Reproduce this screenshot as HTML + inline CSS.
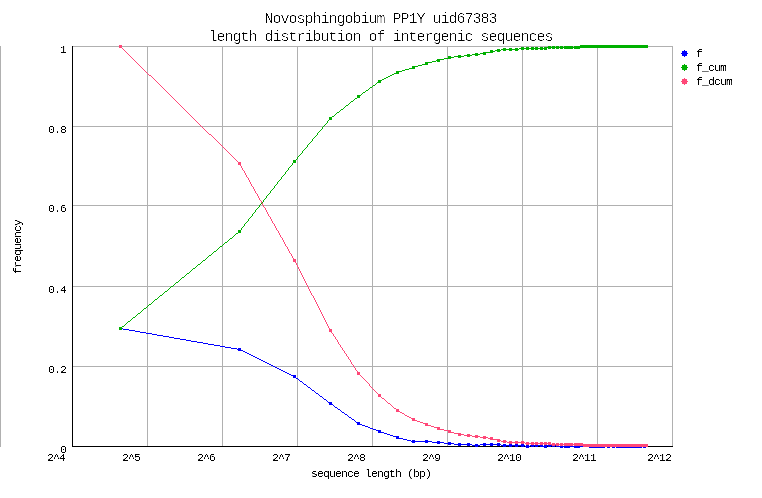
<!DOCTYPE html>
<html><head><meta charset="utf-8"><title>Novosphingobium PP1Y uid67383 - length distribution of intergenic sequences</title><style>
html,body{margin:0;padding:0;background:#fff;width:762px;height:498px;overflow:hidden}
.t{position:absolute;margin:0;font-family:"Liberation Mono",monospace;font-weight:400;color:#000;white-space:pre;line-height:1;filter:url(#th);}
.ttl{font-size:15px;letter-spacing:-1.0px;}
.s{font-size:11.5px;letter-spacing:-0.9px;filter:url(#th2);}
svg{position:absolute;left:0;top:0}
</style></head><body>
<svg width="762" height="498" viewBox="0 0 762 498" shape-rendering="crispEdges">
<defs><filter id="th" x="0" y="0" width="100%" height="100%"><feComponentTransfer><feFuncA type="linear" slope="3" intercept="-1.6"/></feComponentTransfer></filter><filter id="th2" x="0" y="0" width="100%" height="100%"><feComponentTransfer><feFuncA type="linear" slope="3" intercept="-1.0"/></feComponentTransfer></filter></defs>
<!-- grid -->
<path fill="#b0b0b0" d="M147 46h1v401h-1zM222 46h1v401h-1zM297 46h1v401h-1zM372 46h1v401h-1zM447 46h1v401h-1zM522 46h1v401h-1zM597 46h1v401h-1zM672 46h1v401h-1zM72 46h601v1h-601zM72 126h601v1h-601zM72 205h601v1h-601zM72 286h601v1h-601zM72 366h601v1h-601zM0 46h1v401h-1z"/>
<!-- axes (left + bottom border) -->
<path fill="#000" d="M72 46h1v401h-1zM72 446h601v1h-601z"/>
<!-- series f: line + point markers -->
<path fill="#0000ff" d="M119 327h3v1h-3zM119 328h4v1h-4zM119 329h3v1h-3zM123 329h6v1h-6zM129 330h6v1h-6zM135 331h5v1h-5zM140 332h6v1h-6zM146 333h6v1h-6zM152 334h5v1h-5zM157 335h6v1h-6zM163 336h6v1h-6zM169 337h5v1h-5zM174 338h6v1h-6zM180 339h6v1h-6zM186 340h5v1h-5zM191 341h6v1h-6zM197 342h6v1h-6zM203 343h5v1h-5zM208 344h6v1h-6zM214 345h6v1h-6zM220 346h5v1h-5zM225 347h6v1h-6zM231 348h6v1h-6zM238 348h3v1h-3zM237 349h4v1h-4zM238 350h5v1h-5zM243 351h2v1h-2zM245 352h2v1h-2zM247 353h2v1h-2zM249 354h2v1h-2zM251 355h2v1h-2zM253 356h2v1h-2zM255 357h2v1h-2zM257 358h2v1h-2zM259 359h2v1h-2zM261 360h2v1h-2zM263 361h2v1h-2zM265 362h2v1h-2zM267 363h2v1h-2zM269 364h2v1h-2zM271 365h2v1h-2zM273 366h2v1h-2zM275 367h2v1h-2zM277 368h2v1h-2zM279 369h2v1h-2zM281 370h2v1h-2zM283 371h2v1h-2zM285 372h2v1h-2zM287 373h2v1h-2zM289 374h2v1h-2zM291 375h5v1h-5zM293 376h3v1h-3zM293 377h3v1h-3zM296 378h2v1h-2zM298 379h1v1h-1zM299 380h1v1h-1zM300 381h2v1h-2zM302 382h1v1h-1zM303 383h1v1h-1zM304 384h2v1h-2zM306 385h1v1h-1zM307 386h1v1h-1zM308 387h2v1h-2zM310 388h1v1h-1zM311 389h1v1h-1zM312 390h2v1h-2zM314 391h1v1h-1zM315 392h1v1h-1zM316 393h2v1h-2zM318 394h1v1h-1zM319 395h1v1h-1zM320 396h2v1h-2zM322 397h1v1h-1zM323 398h1v1h-1zM324 399h2v1h-2zM326 400h1v1h-1zM327 401h1v1h-1zM328 402h4v1h-4zM329 403h3v1h-3zM329 404h4v1h-4zM333 405h1v1h-1zM334 406h1v1h-1zM335 407h2v1h-2zM337 408h1v1h-1zM338 409h2v1h-2zM340 410h1v1h-1zM341 411h1v1h-1zM342 412h2v1h-2zM344 413h1v1h-1zM345 414h2v1h-2zM347 415h1v1h-1zM348 416h1v1h-1zM349 417h2v1h-2zM351 418h1v1h-1zM352 419h2v1h-2zM354 420h1v1h-1zM355 421h1v1h-1zM356 422h4v1h-4zM357 423h3v1h-3zM357 424h5v1h-5zM362 425h3v1h-3zM365 426h3v1h-3zM368 427h2v1h-2zM370 428h3v1h-3zM373 429h3v1h-3zM376 430h5v1h-5zM378 431h3v1h-3zM378 432h6v1h-6zM384 433h3v1h-3zM387 434h3v1h-3zM390 435h3v1h-3zM393 436h6v1h-6zM396 437h3v1h-3zM396 438h7v1h-7zM403 439h4v1h-4zM407 440h4v1h-4zM412 440h3v1h-3zM425 440h3v1h-3zM411 441h21v1h-21zM437 441h3v1h-3zM412 442h3v1h-3zM425 442h3v1h-3zM432 442h12v1h-12zM448 442h3v1h-3zM437 443h3v1h-3zM444 443h10v1h-10zM458 443h3v1h-3zM467 443h3v1h-3zM483 443h3v1h-3zM490 443h3v1h-3zM497 443h3v1h-3zM448 444h3v1h-3zM454 444h18v1h-18zM475 444h3v1h-3zM480 444h21v1h-21zM503 444h3v1h-3zM509 444h3v1h-3zM515 444h3v1h-3zM521 444h3v1h-3zM531 444h3v1h-3zM535 444h3v1h-3zM540 444h3v1h-3zM548 444h3v1h-3zM552 444h3v1h-3zM556 444h3v1h-3zM570 444h3v1h-3zM580 444h9v1h-9zM604 444h3v1h-3zM609 444h3v1h-3zM614 444h3v1h-3zM641 444h3v1h-3zM645 444h3v1h-3zM458 445h3v1h-3zM467 445h3v1h-3zM472 445h8v1h-8zM483 445h3v1h-3zM490 445h3v1h-3zM497 445h3v1h-3zM501 445h24v1h-24zM526 445h3v1h-3zM530 445h13v1h-13zM544 445h15v1h-15zM560 445h3v1h-3zM564 445h9v1h-9zM574 445h74v1h-74zM475 446h3v1h-3zM503 446h3v1h-3zM509 446h3v1h-3zM515 446h3v1h-3zM521 446h3v1h-3zM525 446h5v1h-5zM531 446h3v1h-3zM535 446h3v1h-3zM540 446h7v1h-7zM548 446h3v1h-3zM552 446h3v1h-3zM556 446h92v1h-92zM526 447h3v1h-3zM544 447h3v1h-3zM560 447h3v1h-3zM564 447h6v1h-6zM574 447h6v1h-6zM589 447h16v1h-16zM607 447h3v1h-3zM612 447h3v1h-3zM616 447h26v1h-26zM643 447h3v1h-3z"/>
<!-- series f_cum: line + point markers -->
<path fill="#00b000" d="M580 45h68v1h-68zM548 46h3v1h-3zM552 46h3v1h-3zM556 46h3v1h-3zM560 46h3v1h-3zM564 46h9v1h-9zM574 46h74v1h-74zM521 47h3v1h-3zM526 47h3v1h-3zM531 47h3v1h-3zM535 47h3v1h-3zM540 47h3v1h-3zM544 47h104v1h-104zM503 48h3v1h-3zM509 48h3v1h-3zM515 48h3v1h-3zM519 48h28v1h-28zM548 48h3v1h-3zM552 48h3v1h-3zM556 48h3v1h-3zM560 48h3v1h-3zM564 48h9v1h-9zM574 48h6v1h-6zM497 49h3v1h-3zM501 49h18v1h-18zM521 49h3v1h-3zM526 49h3v1h-3zM531 49h3v1h-3zM535 49h3v1h-3zM540 49h3v1h-3zM544 49h3v1h-3zM490 50h3v1h-3zM495 50h6v1h-6zM503 50h3v1h-3zM509 50h3v1h-3zM515 50h3v1h-3zM490 51h5v1h-5zM497 51h3v1h-3zM483 52h10v1h-10zM475 53h3v1h-3zM480 53h6v1h-6zM467 54h3v1h-3zM472 54h8v1h-8zM483 54h3v1h-3zM458 55h3v1h-3zM464 55h8v1h-8zM475 55h3v1h-3zM448 56h3v1h-3zM454 56h10v1h-10zM467 56h3v1h-3zM448 57h6v1h-6zM458 57h3v1h-3zM444 58h7v1h-7zM437 59h7v1h-7zM436 60h4v1h-4zM432 61h4v1h-4zM437 61h3v1h-3zM425 62h7v1h-7zM425 63h3v1h-3zM422 64h6v1h-6zM418 65h4v1h-4zM412 66h6v1h-6zM412 67h3v1h-3zM409 68h6v1h-6zM405 69h4v1h-4zM402 70h3v1h-3zM396 71h6v1h-6zM396 72h3v1h-3zM394 73h5v1h-5zM392 74h2v1h-2zM390 75h2v1h-2zM388 76h2v1h-2zM386 77h2v1h-2zM384 78h2v1h-2zM382 79h2v1h-2zM378 80h4v1h-4zM378 81h3v1h-3zM377 82h4v1h-4zM376 83h1v1h-1zM375 84h1v1h-1zM373 85h2v1h-2zM372 86h1v1h-1zM370 87h2v1h-2zM369 88h1v1h-1zM368 89h1v1h-1zM366 90h2v1h-2zM365 91h1v1h-1zM363 92h2v1h-2zM362 93h1v1h-1zM361 94h1v1h-1zM357 95h4v1h-4zM357 96h3v1h-3zM357 97h3v1h-3zM355 98h2v1h-2zM354 99h1v1h-1zM353 100h1v1h-1zM351 101h2v1h-2zM350 102h1v1h-1zM349 103h1v1h-1zM348 104h1v1h-1zM346 105h2v1h-2zM345 106h1v1h-1zM344 107h1v1h-1zM343 108h1v1h-1zM341 109h2v1h-2zM340 110h1v1h-1zM339 111h1v1h-1zM337 112h2v1h-2zM336 113h1v1h-1zM335 114h1v1h-1zM334 115h1v1h-1zM332 116h2v1h-2zM329 117h3v1h-3zM329 118h3v1h-3zM329 119h3v1h-3zM328 120h1v1h-1zM327 121h1v1h-1zM327 122h1v1h-1zM326 123h1v1h-1zM325 124h1v1h-1zM324 125h1v1h-1zM323 126h1v1h-1zM322 127h1v1h-1zM322 128h1v1h-1zM321 129h1v1h-1zM320 130h1v1h-1zM319 131h1v1h-1zM318 132h1v1h-1zM317 133h1v1h-1zM317 134h1v1h-1zM316 135h1v1h-1zM315 136h1v1h-1zM314 137h1v1h-1zM313 138h1v1h-1zM312 139h1v1h-1zM312 140h1v1h-1zM311 141h1v1h-1zM310 142h1v1h-1zM309 143h1v1h-1zM308 144h1v1h-1zM307 145h1v1h-1zM307 146h1v1h-1zM306 147h1v1h-1zM305 148h1v1h-1zM304 149h1v1h-1zM303 150h1v1h-1zM302 151h1v1h-1zM302 152h1v1h-1zM301 153h1v1h-1zM300 154h1v1h-1zM299 155h1v1h-1zM298 156h1v1h-1zM297 157h1v1h-1zM297 158h1v1h-1zM296 159h1v1h-1zM293 160h3v1h-3zM293 161h3v1h-3zM293 162h3v1h-3zM292 163h1v1h-1zM292 164h1v1h-1zM291 165h1v1h-1zM290 166h1v1h-1zM289 167h1v1h-1zM288 168h1v1h-1zM288 169h1v1h-1zM287 170h1v1h-1zM286 171h1v1h-1zM285 172h1v1h-1zM285 173h1v1h-1zM284 174h1v1h-1zM283 175h1v1h-1zM282 176h1v1h-1zM281 177h1v1h-1zM281 178h1v1h-1zM280 179h1v1h-1zM279 180h1v1h-1zM278 181h1v1h-1zM277 182h1v1h-1zM277 183h1v1h-1zM276 184h1v1h-1zM275 185h1v1h-1zM274 186h1v1h-1zM274 187h1v1h-1zM273 188h1v1h-1zM272 189h1v1h-1zM271 190h1v1h-1zM270 191h1v1h-1zM270 192h1v1h-1zM269 193h1v1h-1zM268 194h1v1h-1zM267 195h1v1h-1zM266 196h1v1h-1zM266 197h1v1h-1zM265 198h1v1h-1zM264 199h1v1h-1zM263 200h1v1h-1zM263 201h1v1h-1zM262 202h1v1h-1zM261 203h1v1h-1zM260 204h1v1h-1zM259 205h1v1h-1zM259 206h1v1h-1zM258 207h1v1h-1zM257 208h1v1h-1zM256 209h1v1h-1zM255 210h1v1h-1zM255 211h1v1h-1zM254 212h1v1h-1zM253 213h1v1h-1zM252 214h1v1h-1zM252 215h1v1h-1zM251 216h1v1h-1zM250 217h1v1h-1zM249 218h1v1h-1zM248 219h1v1h-1zM248 220h1v1h-1zM247 221h1v1h-1zM246 222h1v1h-1zM245 223h1v1h-1zM244 224h1v1h-1zM244 225h1v1h-1zM243 226h1v1h-1zM242 227h1v1h-1zM241 228h1v1h-1zM241 229h1v1h-1zM238 230h3v1h-3zM238 231h3v1h-3zM238 232h3v1h-3zM236 233h2v1h-2zM235 234h1v1h-1zM234 235h1v1h-1zM233 236h1v1h-1zM232 237h1v1h-1zM230 238h2v1h-2zM229 239h1v1h-1zM228 240h1v1h-1zM227 241h1v1h-1zM225 242h2v1h-2zM224 243h1v1h-1zM223 244h1v1h-1zM222 245h1v1h-1zM220 246h2v1h-2zM219 247h1v1h-1zM218 248h1v1h-1zM217 249h1v1h-1zM216 250h1v1h-1zM214 251h2v1h-2zM213 252h1v1h-1zM212 253h1v1h-1zM211 254h1v1h-1zM209 255h2v1h-2zM208 256h1v1h-1zM207 257h1v1h-1zM206 258h1v1h-1zM205 259h1v1h-1zM203 260h2v1h-2zM202 261h1v1h-1zM201 262h1v1h-1zM200 263h1v1h-1zM198 264h2v1h-2zM197 265h1v1h-1zM196 266h1v1h-1zM195 267h1v1h-1zM193 268h2v1h-2zM192 269h1v1h-1zM191 270h1v1h-1zM190 271h1v1h-1zM189 272h1v1h-1zM187 273h2v1h-2zM186 274h1v1h-1zM185 275h1v1h-1zM184 276h1v1h-1zM182 277h2v1h-2zM181 278h1v1h-1zM180 279h1v1h-1zM179 280h1v1h-1zM178 281h1v1h-1zM176 282h2v1h-2zM175 283h1v1h-1zM174 284h1v1h-1zM173 285h1v1h-1zM171 286h2v1h-2zM170 287h1v1h-1zM169 288h1v1h-1zM168 289h1v1h-1zM167 290h1v1h-1zM165 291h2v1h-2zM164 292h1v1h-1zM163 293h1v1h-1zM162 294h1v1h-1zM160 295h2v1h-2zM159 296h1v1h-1zM158 297h1v1h-1zM157 298h1v1h-1zM155 299h2v1h-2zM154 300h1v1h-1zM153 301h1v1h-1zM152 302h1v1h-1zM151 303h1v1h-1zM149 304h2v1h-2zM148 305h1v1h-1zM147 306h1v1h-1zM146 307h1v1h-1zM144 308h2v1h-2zM143 309h1v1h-1zM142 310h1v1h-1zM141 311h1v1h-1zM140 312h1v1h-1zM138 313h2v1h-2zM137 314h1v1h-1zM136 315h1v1h-1zM135 316h1v1h-1zM133 317h2v1h-2zM132 318h1v1h-1zM131 319h1v1h-1zM130 320h1v1h-1zM128 321h2v1h-2zM127 322h1v1h-1zM126 323h1v1h-1zM125 324h1v1h-1zM124 325h1v1h-1zM122 326h2v1h-2zM119 327h3v1h-3zM119 328h3v1h-3zM119 329h3v1h-3z"/>
<!-- series f_dcum: line + point markers -->
<path fill="#ff4878" d="M119 45h3v1h-3zM119 46h3v1h-3zM119 47h3v1h-3zM122 48h1v1h-1zM123 49h1v1h-1zM124 50h1v1h-1zM125 51h1v1h-1zM126 52h1v1h-1zM127 53h1v1h-1zM128 54h1v1h-1zM129 55h1v1h-1zM130 56h1v1h-1zM131 57h1v1h-1zM132 58h1v1h-1zM133 59h1v1h-1zM134 60h1v1h-1zM135 61h1v1h-1zM136 62h1v1h-1zM137 63h1v1h-1zM138 64h1v1h-1zM139 65h1v1h-1zM140 66h1v1h-1zM141 67h1v1h-1zM142 68h1v1h-1zM143 69h1v1h-1zM144 70h1v1h-1zM145 71h1v1h-1zM146 72h1v1h-1zM147 73h1v1h-1zM148 74h1v1h-1zM149 75h2v1h-2zM151 76h1v1h-1zM152 77h1v1h-1zM153 78h1v1h-1zM154 79h1v1h-1zM155 80h1v1h-1zM156 81h1v1h-1zM157 82h1v1h-1zM158 83h1v1h-1zM159 84h1v1h-1zM160 85h1v1h-1zM161 86h1v1h-1zM162 87h1v1h-1zM163 88h1v1h-1zM164 89h1v1h-1zM165 90h1v1h-1zM166 91h1v1h-1zM167 92h1v1h-1zM168 93h1v1h-1zM169 94h1v1h-1zM170 95h1v1h-1zM171 96h1v1h-1zM172 97h1v1h-1zM173 98h1v1h-1zM174 99h1v1h-1zM175 100h1v1h-1zM176 101h1v1h-1zM177 102h1v1h-1zM178 103h1v1h-1zM179 104h1v1h-1zM180 105h1v1h-1zM181 106h1v1h-1zM182 107h1v1h-1zM183 108h1v1h-1zM184 109h1v1h-1zM185 110h1v1h-1zM186 111h1v1h-1zM187 112h1v1h-1zM188 113h1v1h-1zM189 114h1v1h-1zM190 115h1v1h-1zM191 116h1v1h-1zM192 117h1v1h-1zM193 118h1v1h-1zM194 119h1v1h-1zM195 120h1v1h-1zM196 121h1v1h-1zM197 122h1v1h-1zM198 123h1v1h-1zM199 124h1v1h-1zM200 125h1v1h-1zM201 126h1v1h-1zM202 127h1v1h-1zM203 128h1v1h-1zM204 129h1v1h-1zM205 130h1v1h-1zM206 131h1v1h-1zM207 132h1v1h-1zM208 133h1v1h-1zM209 134h2v1h-2zM211 135h1v1h-1zM212 136h1v1h-1zM213 137h1v1h-1zM214 138h1v1h-1zM215 139h1v1h-1zM216 140h1v1h-1zM217 141h1v1h-1zM218 142h1v1h-1zM219 143h1v1h-1zM220 144h1v1h-1zM221 145h1v1h-1zM222 146h1v1h-1zM223 147h1v1h-1zM224 148h1v1h-1zM225 149h1v1h-1zM226 150h1v1h-1zM227 151h1v1h-1zM228 152h1v1h-1zM229 153h1v1h-1zM230 154h1v1h-1zM231 155h1v1h-1zM232 156h1v1h-1zM233 157h1v1h-1zM234 158h1v1h-1zM235 159h1v1h-1zM236 160h1v1h-1zM237 161h1v1h-1zM238 162h3v1h-3zM238 163h3v1h-3zM238 164h3v1h-3zM240 165h1v1h-1zM241 166h1v1h-1zM241 167h1v1h-1zM242 168h1v1h-1zM242 169h1v1h-1zM243 170h1v1h-1zM244 171h1v1h-1zM244 172h1v1h-1zM245 173h1v1h-1zM245 174h1v1h-1zM246 175h1v1h-1zM246 176h1v1h-1zM247 177h1v1h-1zM248 178h1v1h-1zM248 179h1v1h-1zM249 180h1v1h-1zM249 181h1v1h-1zM250 182h1v1h-1zM250 183h1v1h-1zM251 184h1v1h-1zM251 185h1v1h-1zM252 186h1v1h-1zM253 187h1v1h-1zM253 188h1v1h-1zM254 189h1v1h-1zM254 190h1v1h-1zM255 191h1v1h-1zM255 192h1v1h-1zM256 193h1v1h-1zM257 194h1v1h-1zM257 195h1v1h-1zM258 196h1v1h-1zM258 197h1v1h-1zM259 198h1v1h-1zM259 199h1v1h-1zM260 200h1v1h-1zM261 201h1v1h-1zM261 202h1v1h-1zM262 203h1v1h-1zM262 204h1v1h-1zM263 205h1v1h-1zM263 206h1v1h-1zM264 207h1v1h-1zM265 208h1v1h-1zM265 209h1v1h-1zM266 210h1v1h-1zM266 211h1v1h-1zM267 212h1v1h-1zM267 213h1v1h-1zM268 214h1v1h-1zM268 215h1v1h-1zM269 216h1v1h-1zM270 217h1v1h-1zM270 218h1v1h-1zM271 219h1v1h-1zM271 220h1v1h-1zM272 221h1v1h-1zM272 222h1v1h-1zM273 223h1v1h-1zM274 224h1v1h-1zM274 225h1v1h-1zM275 226h1v1h-1zM275 227h1v1h-1zM276 228h1v1h-1zM276 229h1v1h-1zM277 230h1v1h-1zM278 231h1v1h-1zM278 232h1v1h-1zM279 233h1v1h-1zM279 234h1v1h-1zM280 235h1v1h-1zM280 236h1v1h-1zM281 237h1v1h-1zM282 238h1v1h-1zM282 239h1v1h-1zM283 240h1v1h-1zM283 241h1v1h-1zM284 242h1v1h-1zM284 243h1v1h-1zM285 244h1v1h-1zM285 245h1v1h-1zM286 246h1v1h-1zM287 247h1v1h-1zM287 248h1v1h-1zM288 249h1v1h-1zM288 250h1v1h-1zM289 251h1v1h-1zM289 252h1v1h-1zM290 253h1v1h-1zM291 254h1v1h-1zM291 255h1v1h-1zM292 256h1v1h-1zM292 257h1v1h-1zM293 258h1v1h-1zM293 259h3v1h-3zM293 260h3v1h-3zM293 261h3v1h-3zM295 262h1v1h-1zM296 263h1v1h-1zM296 264h1v1h-1zM297 265h1v1h-1zM297 266h1v1h-1zM298 267h1v1h-1zM298 268h1v1h-1zM299 269h1v1h-1zM299 270h1v1h-1zM300 271h1v1h-1zM300 272h1v1h-1zM301 273h1v1h-1zM301 274h1v1h-1zM302 275h1v1h-1zM302 276h1v1h-1zM303 277h1v1h-1zM303 278h1v1h-1zM304 279h1v1h-1zM304 280h1v1h-1zM305 281h1v1h-1zM305 282h1v1h-1zM306 283h1v1h-1zM306 284h1v1h-1zM307 285h1v1h-1zM307 286h1v1h-1zM308 287h1v1h-1zM308 288h1v1h-1zM309 289h1v1h-1zM309 290h1v1h-1zM310 291h1v1h-1zM310 292h1v1h-1zM311 293h1v1h-1zM311 294h1v1h-1zM312 295h1v1h-1zM313 296h1v1h-1zM313 297h1v1h-1zM314 298h1v1h-1zM314 299h1v1h-1zM315 300h1v1h-1zM315 301h1v1h-1zM316 302h1v1h-1zM316 303h1v1h-1zM317 304h1v1h-1zM317 305h1v1h-1zM318 306h1v1h-1zM318 307h1v1h-1zM319 308h1v1h-1zM319 309h1v1h-1zM320 310h1v1h-1zM320 311h1v1h-1zM321 312h1v1h-1zM321 313h1v1h-1zM322 314h1v1h-1zM322 315h1v1h-1zM323 316h1v1h-1zM323 317h1v1h-1zM324 318h1v1h-1zM324 319h1v1h-1zM325 320h1v1h-1zM325 321h1v1h-1zM326 322h1v1h-1zM326 323h1v1h-1zM327 324h1v1h-1zM327 325h1v1h-1zM328 326h1v1h-1zM328 327h1v1h-1zM329 328h1v1h-1zM329 329h3v1h-3zM329 330h3v1h-3zM329 331h3v1h-3zM331 332h1v1h-1zM332 333h1v1h-1zM333 334h1v1h-1zM333 335h1v1h-1zM334 336h1v1h-1zM335 337h1v1h-1zM335 338h1v1h-1zM336 339h1v1h-1zM337 340h1v1h-1zM337 341h1v1h-1zM338 342h1v1h-1zM338 343h1v1h-1zM339 344h1v1h-1zM340 345h1v1h-1zM340 346h1v1h-1zM341 347h1v1h-1zM342 348h1v1h-1zM342 349h1v1h-1zM343 350h1v1h-1zM344 351h1v1h-1zM344 352h1v1h-1zM345 353h1v1h-1zM346 354h1v1h-1zM346 355h1v1h-1zM347 356h1v1h-1zM348 357h1v1h-1zM348 358h1v1h-1zM349 359h1v1h-1zM350 360h1v1h-1zM350 361h1v1h-1zM351 362h1v1h-1zM351 363h1v1h-1zM352 364h1v1h-1zM353 365h1v1h-1zM353 366h1v1h-1zM354 367h1v1h-1zM355 368h1v1h-1zM355 369h1v1h-1zM356 370h1v1h-1zM357 371h1v1h-1zM357 372h3v1h-3zM357 373h3v1h-3zM357 374h3v1h-3zM360 375h1v1h-1zM361 376h1v1h-1zM362 377h1v1h-1zM363 378h1v1h-1zM364 379h1v1h-1zM365 380h1v1h-1zM366 381h1v1h-1zM367 382h1v1h-1zM368 383h1v1h-1zM369 384h1v1h-1zM369 385h1v1h-1zM370 386h1v1h-1zM371 387h1v1h-1zM372 388h1v1h-1zM373 389h1v1h-1zM374 390h1v1h-1zM375 391h1v1h-1zM376 392h1v1h-1zM377 393h1v1h-1zM378 394h3v1h-3zM378 395h3v1h-3zM378 396h3v1h-3zM381 397h1v1h-1zM382 398h2v1h-2zM384 399h1v1h-1zM385 400h1v1h-1zM386 401h1v1h-1zM387 402h1v1h-1zM388 403h2v1h-2zM390 404h1v1h-1zM391 405h1v1h-1zM392 406h1v1h-1zM393 407h1v1h-1zM394 408h2v1h-2zM396 409h3v1h-3zM396 410h3v1h-3zM396 411h4v1h-4zM400 412h2v1h-2zM402 413h2v1h-2zM404 414h1v1h-1zM405 415h2v1h-2zM407 416h2v1h-2zM409 417h2v1h-2zM411 418h4v1h-4zM412 419h3v1h-3zM412 420h5v1h-5zM417 421h3v1h-3zM420 422h3v1h-3zM423 423h5v1h-5zM425 424h3v1h-3zM425 425h6v1h-6zM431 426h3v1h-3zM434 427h6v1h-6zM437 428h3v1h-3zM437 429h7v1h-7zM444 430h7v1h-7zM448 431h3v1h-3zM448 432h6v1h-6zM454 433h7v1h-7zM458 434h6v1h-6zM467 434h3v1h-3zM458 435h3v1h-3zM464 435h8v1h-8zM475 435h3v1h-3zM467 436h3v1h-3zM472 436h8v1h-8zM483 436h3v1h-3zM475 437h3v1h-3zM480 437h8v1h-8zM490 437h3v1h-3zM483 438h3v1h-3zM488 438h5v1h-5zM490 439h10v1h-10zM497 440h4v1h-4zM503 440h3v1h-3zM497 441h3v1h-3zM501 441h6v1h-6zM509 441h3v1h-3zM515 441h3v1h-3zM521 441h3v1h-3zM503 442h3v1h-3zM507 442h18v1h-18zM526 442h3v1h-3zM531 442h3v1h-3zM535 442h3v1h-3zM540 442h3v1h-3zM544 442h3v1h-3zM548 442h3v1h-3zM509 443h3v1h-3zM515 443h3v1h-3zM521 443h3v1h-3zM525 443h26v1h-26zM552 443h3v1h-3zM556 443h3v1h-3zM560 443h3v1h-3zM564 443h9v1h-9zM574 443h9v1h-9zM526 444h3v1h-3zM531 444h3v1h-3zM535 444h3v1h-3zM540 444h3v1h-3zM544 444h3v1h-3zM548 444h100v1h-100zM552 445h3v1h-3zM556 445h3v1h-3zM560 445h3v1h-3zM564 445h9v1h-9zM574 445h74v1h-74zM583 446h65v1h-65z"/>
<!-- legend keys -->
<path fill="#0000ff" d="M682 51h5v5h-5zM684 50h1v7h-1zM681 53h7v1h-7z"/>
<path fill="#00b000" d="M682 65h5v5h-5zM684 64h1v7h-1zM681 67h7v1h-7z"/>
<path fill="#ff4878" d="M682 79h5v5h-5zM684 78h1v7h-1zM681 81h7v1h-7z"/>
</svg>
<div class="t ttl" style="left:264.5px;top:12px">Novosphingobium PP1Y uid67383</div>
<div class="t ttl" style="left:208.5px;top:30px">length distribution of intergenic sequences</div>
<div class="t s" style="left:60px;top:44px">1</div>
<div class="t s" style="left:48px;top:124px">0.8</div>
<div class="t s" style="left:48px;top:203px">0.6</div>
<div class="t s" style="left:48px;top:284px">0.4</div>
<div class="t s" style="left:48px;top:364px">0.2</div>
<div class="t s" style="left:60px;top:444px">0</div>
<div class="t s" style="left:47px;top:452px">2^4</div>
<div class="t s" style="left:122px;top:452px">2^5</div>
<div class="t s" style="left:197px;top:452px">2^6</div>
<div class="t s" style="left:272px;top:452px">2^7</div>
<div class="t s" style="left:347px;top:452px">2^8</div>
<div class="t s" style="left:422px;top:452px">2^9</div>
<div class="t s" style="left:497px;top:452px">2^10</div>
<div class="t s" style="left:572px;top:452px">2^11</div>
<div class="t s" style="left:647px;top:452px">2^12</div>
<div class="t s" style="left:311px;top:468px">sequence length (bp)</div>
<div class="t s" style="left:696px;top:48px">f</div>
<div class="t s" style="left:696px;top:62px">f_cum</div>
<div class="t s" style="left:696px;top:76px">f_dcum</div>
<div class="t s" style="left:12px;top:274px;transform-origin:0 0;transform:rotate(-90deg)">frequency</div>
</body></html>
